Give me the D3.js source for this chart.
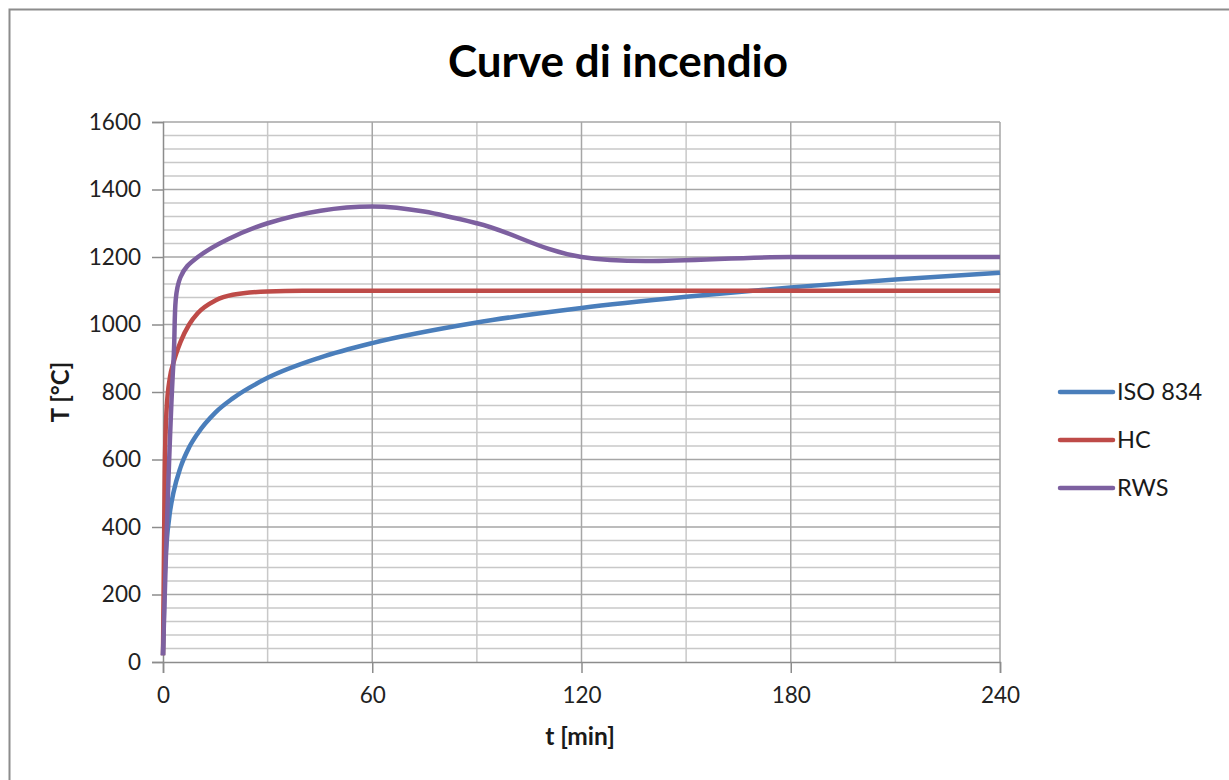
<!DOCTYPE html>
<html>
<head>
<meta charset="utf-8">
<script src="https://cdn.jsdelivr.net/npm/d3@7"></script>
<style>
  body { margin: 0; background: #fff; }
  text { font-family: Lato, "Open Sans", sans-serif; }
</style>
</head>
<body>
<div id="chart"></div>
<script>
// values
var isoT = [0, 0.5, 1, 2, 3, 5, 7.5, 10, 15, 20, 30, 45, 60, 90, 120, 150, 180, 210, 240];
var isoV = [20, 261, 349, 445, 502, 576, 636, 678, 739, 781, 842, 902, 945, 1006, 1049, 1082, 1110, 1133, 1153];
var hcT = [0, 0.5, 1, 2, 3, 5, 7.5, 10, 15, 20, 30, 40, 60, 120, 180, 240];
var hcV = [20, 568, 743, 844, 887, 948, 1000, 1034, 1071, 1088, 1098, 1100, 1100, 1100, 1100, 1100];
var rwsT = [0, 3, 5, 10, 30, 60, 90, 120, 180, 240];
var rwsV = [20, 890, 1140, 1200, 1300, 1350, 1300, 1200, 1200, 1200];
var seriesNames = ["ISO 834", "HC", "RWS"];
var seriesColors = ["#4a7ebb", "#be4b48", "#7d60a0"];
var xTicks = [0, 60, 120, 180, 240];
var yTicks = [0, 200, 400, 600, 800, 1000, 1200, 1400, 1600];

var W = 1229, H = 780;
var svg = d3.select("#chart").append("svg").attr("width", W).attr("height", H);

svg.append("rect").attr("x", 9.5).attr("y", 9.5).attr("width", 1300).attr("height", 900)
  .attr("fill", "#fff").attr("stroke", "#8c8c8c").attr("stroke-width", 2);

var margin = {left: 163, top: 122, right: 1000, bottom: 662};
var x = d3.scaleLinear().domain([0, 240]).range([margin.left, margin.right]);
var y = d3.scaleLinear().domain([0, 1600]).range([margin.bottom, margin.top]);

var grid = svg.append("g");
// minor horizontal grid every 40
d3.range(40, 1600, 40).forEach(function (v) {
  if (v % 200 == 0) return;
  grid.append("line").attr("x1", x(0)).attr("x2", x(240)).attr("y1", y(v)).attr("y2", y(v))
    .attr("stroke", "#c8c8c8").attr("stroke-width", 1.5);
});
d3.range(30, 241, 30).forEach(function (v) {
  grid.append("line").attr("x1", x(v)).attr("x2", x(v)).attr("y1", y(0)).attr("y2", y(1600))
    .attr("stroke", v % 60 == 0 ? "#a6a6a6" : "#c8c8c8").attr("stroke-width", 1.5);
});
yTicks.forEach(function (v) {
  if (v == 0) return;
  grid.append("line").attr("x1", x(0)).attr("x2", x(240)).attr("y1", y(v)).attr("y2", y(v))
    .attr("stroke", "#a6a6a6").attr("stroke-width", 1.5);
});

var yAxis = svg.append("g").attr("transform", "translate(" + x(0) + ",0)")
  .call(d3.axisLeft(y).tickValues(yTicks).tickSize(11).tickPadding(11).tickFormat(d3.format("d")));
var xAxis = svg.append("g").attr("transform", "translate(0," + y(0) + ")")
  .call(d3.axisBottom(x).tickValues(xTicks).tickSize(11).tickPadding(14).tickFormat(d3.format("d")));
[yAxis, xAxis].forEach(function (a) {
  a.select(".domain").attr("stroke", "#8c8c8c").attr("stroke-width", 1.5);
  a.selectAll(".tick line").attr("stroke", "#8c8c8c").attr("stroke-width", 1.5);
  a.selectAll(".tick text").attr("font-size", 22.5).attr("fill", "#222")
    .style("font-family", "Lato, 'Open Sans', sans-serif");
});

function toPoints(ts, vs) {
  return ts.map(function (t, i) { return [t, vs[i]]; });
}
var data = [toPoints(isoT, isoV), toPoints(hcT, hcV), toPoints(rwsT, rwsV)];
var curves = [d3.curveMonotoneX, d3.curveMonotoneX, d3.curveCatmullRom];

data.forEach(function (pts, i) {
  var line = d3.line().x(function (d) { return x(d[0]); }).y(function (d) { return y(d[1]); }).curve(curves[i]);
  svg.append("path").datum(pts).attr("d", line).attr("fill", "none")
    .attr("stroke", seriesColors[i]).attr("stroke-width", 4.5).attr("stroke-linejoin", "round");
});

svg.append("text").attr("x", 618).attr("y", 77).attr("text-anchor", "middle")
  .attr("font-size", 44).attr("font-weight", "bold").attr("fill", "#000").text("Curve di incendio");
svg.append("text").attr("x", 580).attr("y", 745).attr("text-anchor", "middle")
  .attr("font-size", 24.5).attr("font-weight", "bold").attr("fill", "#1a1a1a").text("t [min]");
svg.append("text").attr("transform", "translate(69,392) rotate(-90)").attr("text-anchor", "middle")
  .attr("font-size", 24).attr("font-weight", "bold").attr("fill", "#1a1a1a").text("T [°C]");

var legend = svg.append("g").selectAll("g").data(seriesNames).enter().append("g")
  .attr("transform", function (d, i) { return "translate(1060," + (392 + i * 48) + ")"; });
legend.append("line").attr("x1", 0).attr("x2", 53).attr("y1", 0).attr("y2", 0)
  .attr("stroke", function (d, i) { return seriesColors[i]; }).attr("stroke-width", 4.5).attr("stroke-linecap", "round");
legend.append("text").attr("x", 57).attr("y", 8).attr("font-size", 23.5).attr("fill", "#1a1a1a")
  .text(function (d) { return d; });
</script>
</body>
</html>
